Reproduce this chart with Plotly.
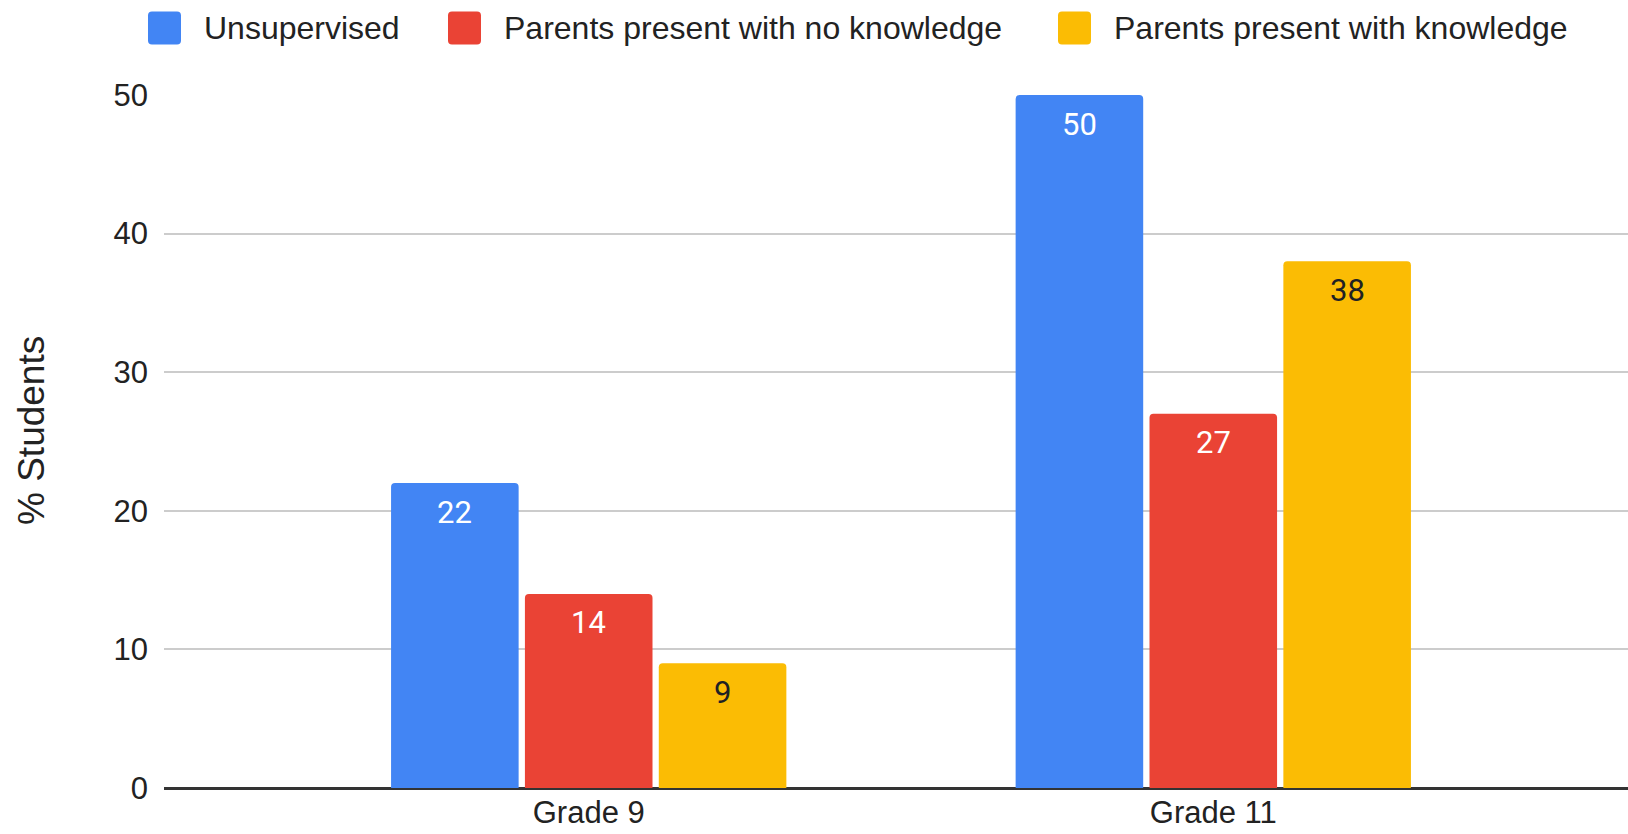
import plotly.graph_objects as go

# Survey results: share of students by supervision setting
grades = ["Grade 9", "Grade 11"]
series_names = ["Unsupervised", "Parents present with no knowledge", "Parents present with knowledge"]
unsupervised = [22, 50]
parents_no_knowledge = [14, 27]
parents_with_knowledge = [9, 38]
y_ticks = [0, 10, 20, 30, 40, 50]

series_values = [unsupervised, parents_no_knowledge, parents_with_knowledge]
colors = ["#4285F4", "#EA4335", "#FBBC04"]
label_colors = ["#FFFFFF", "#FFFFFF", "#202124"]

W, H = 1628, 834
M_L, M_R, M_T, M_B = 164, 0, 95, 46
PLOT_W = W - M_L - M_R
PLOT_H = H - M_T - M_B
BARGAP = 0.357
BARGROUPGAP = 0.047
X_RANGE = [-0.68, 1.664]

AXIS_FONT = "Liberation Sans, Arial, sans-serif"
LABEL_FONT = "Roboto, sans-serif"


def px_to_paper_x(px):
    return (px - M_L) / PLOT_W


def px_to_paper_y(py):
    return (H - M_B - py) / PLOT_H


fig = go.Figure()
for name, vals, col in zip(series_names, series_values, colors):
    fig.add_trace(go.Bar(
        x=grades, y=vals, name=name,
        marker=dict(color=col, line=dict(width=0), cornerradius=4),
        showlegend=False, hoverinfo="x+y+name",
    ))

# value labels sitting just inside the top of each bar
n = len(series_values)
slot = (1 - BARGAP) / n
annotations = []
for k, (vals, lc) in enumerate(zip(series_values, label_colors)):
    for i, v in enumerate(vals):
        annotations.append(dict(
            x=i + (k - (n - 1) / 2) * slot, y=v, xref="x", yref="y",
            text=str(v), showarrow=False, yanchor="middle", yshift=-29,
            font=dict(family=LABEL_FONT, size=31, color=lc),
        ))

# y-axis title
annotations.append(dict(
    x=px_to_paper_x(31), y=px_to_paper_y(431), xref="paper", yref="paper",
    text="% Students", textangle=-90, showarrow=False,
    xanchor="center", yanchor="middle",
    font=dict(family=AXIS_FONT, size=37, color="#222222"),
))

# legend row across the top
shapes = []
legend_sq_left = [148, 448, 1058]
legend_txt_left = [202, 502, 1112]
sq, r = 33, 4
top, bottom = 11.5, 44.5
for name, col, sx, tx in zip(series_names, colors, legend_sq_left, legend_txt_left):
    x0, x1 = sx, sx + sq
    pts = [
        (x0 + r, top), (x1 - r, top), ("Q", x1, top, x1, top + r),
        (x1, bottom - r), ("Q", x1, bottom, x1 - r, bottom),
        (x0 + r, bottom), ("Q", x0, bottom, x0, bottom - r),
        (x0, top + r), ("Q", x0, top, x0 + r, top),
    ]
    path = ""
    for j, p in enumerate(pts):
        if p[0] == "Q":
            path += " Q%.5f,%.5f %.5f,%.5f" % (px_to_paper_x(p[1]), px_to_paper_y(p[2]),
                                                px_to_paper_x(p[3]), px_to_paper_y(p[4]))
        else:
            path += ("M" if j == 0 else " L") + "%.5f,%.5f" % (px_to_paper_x(p[0]), px_to_paper_y(p[1]))
    path += " Z"
    shapes.append(dict(type="path", path=path, xref="paper", yref="paper",
                       fillcolor=col, line=dict(width=0), layer="above"))
    annotations.append(dict(
        x=px_to_paper_x(tx), y=px_to_paper_y((top + bottom) / 2), xref="paper", yref="paper",
        text=name, showarrow=False, xanchor="left", yanchor="middle",
        font=dict(family=AXIS_FONT, size=32, color="#222222"),
    ))

fig.update_layout(
    width=W, height=H,
    margin=dict(l=M_L, r=M_R, t=M_T, b=M_B, pad=0),
    paper_bgcolor="#FFFFFF", plot_bgcolor="#FFFFFF",
    barmode="group", bargap=BARGAP, bargroupgap=BARGROUPGAP,
    annotations=annotations, shapes=shapes,
    showlegend=False,
)
fig.update_xaxes(
    type="category", range=X_RANGE, showgrid=False, showline=False, zeroline=False,
    ticks="", ticklabelstandoff=3,
    tickfont=dict(family=AXIS_FONT, size=31, color="#222222"),
)
fig.update_yaxes(
    range=[0, 50], tickvals=y_ticks, showgrid=True, gridcolor="#CCCCCC", gridwidth=2,
    zeroline=True, zerolinecolor="#333333", zerolinewidth=3, showline=False,
    ticks="", ticklabelstandoff=15,
    tickfont=dict(family=AXIS_FONT, size=31, color="#222222"),
)

fig.write_html("out.html")
